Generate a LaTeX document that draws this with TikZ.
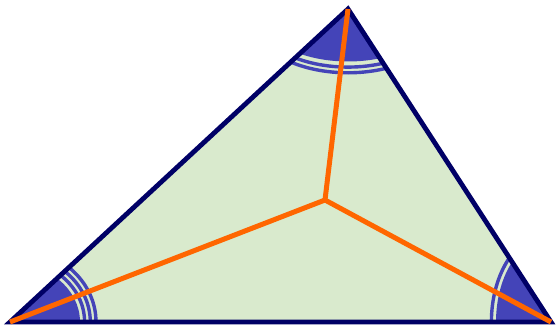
\documentclass[tikz,border=0pt]{standalone}
\definecolor{trigreen}{RGB}{217,234,205}
\definecolor{trinavy}{RGB}{0,0,102}
\definecolor{markblue}{RGB}{68,68,184}
\definecolor{bisorange}{RGB}{255,102,0}
\usetikzlibrary{calc}

\begin{document}
\begin{tikzpicture}[
  x=1pt,y=-1pt,
  edge/.style={draw=trinavy,line width=4.8pt,line join=miter},
  bisector/.style={draw=bisorange,line width=5pt},
  ring/.style={draw=markblue,line width=3.4pt},
]
  \useasboundingbox (0,0) rectangle (557,329);

  % corners and incentre
  \coordinate (A) at (10,322);
  \coordinate (B) at (348,9);
  \coordinate (C) at (551,322);
  \coordinate (I) at (325,200);

  % triangle face
  \fill[trigreen] (A) -- (B) -- (C) -- cycle;

  % angle marks
  \begin{scope}
    \clip (A) -- (B) -- (C) -- cycle;
    \fill[markblue] (A) ellipse[x radius=70, y radius=59];
    \foreach \rx/\ry in {74.6/63.6, 80.3/69.3, 86/75}
      \draw[ring] (A) ellipse[x radius=\rx, y radius=\ry];
    \fill[markblue] (B) ellipse[x radius=92, y radius=52.5];
    \foreach \rx/\ry in {97.6/58.1, 103.3/63.8}
      \draw[ring] (B) ellipse[x radius=\rx, y radius=\ry];
    \fill[markblue] (C) ellipse[x radius=55, y radius=85];
    \draw[ring] (C) ellipse[x radius=59.6, y radius=89.6];
  \end{scope}

  % outline
  \draw[edge] (A) -- (B) -- (C) -- cycle;

  % bisectors
  \draw[bisector] (A) -- (I);
  \draw[bisector] (B) -- (I);
  \draw[bisector] (C) -- (I);
\end{tikzpicture}
\end{document}
